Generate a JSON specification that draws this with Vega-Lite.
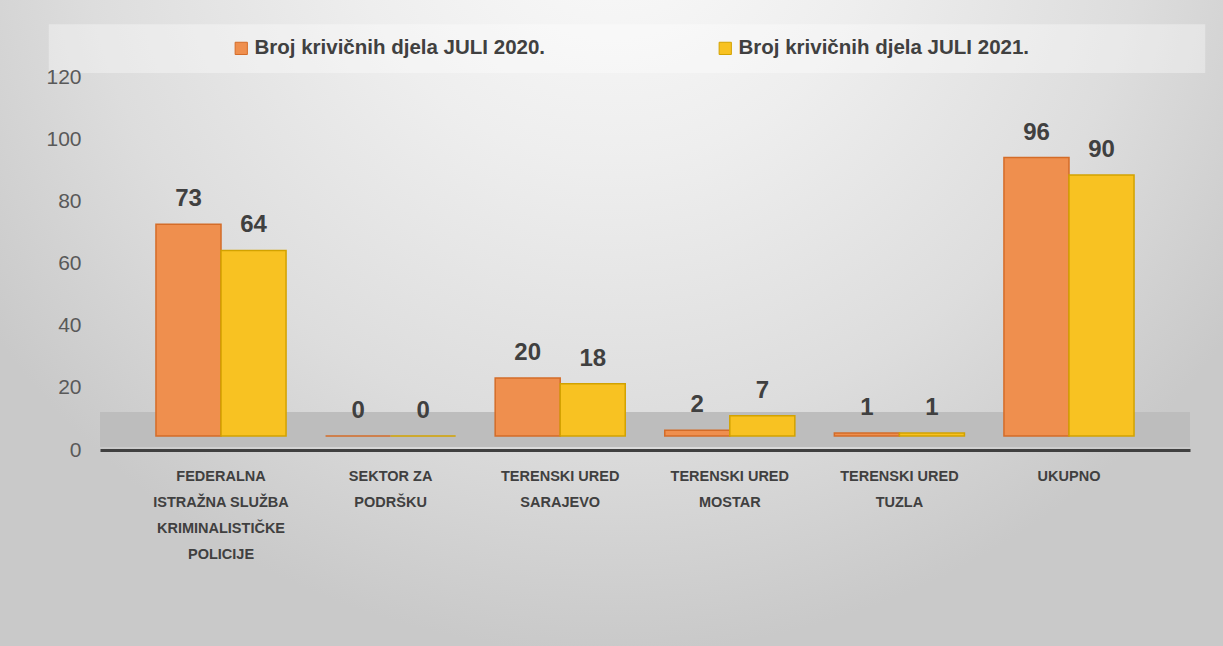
{
  "$schema": "https://vega.github.io/schema/vega-lite/v6.json",
  "autosize": {"type": "none"},
  "width": 1223,
  "height": 646,
  "padding": 0,
  "background": "#d4d4d4",
  "view": {"stroke": null, "fill": {"gradient": "radial", "x1": 0.5, "y1": 0.15, "r1": 0, "x2": 0.5, "y2": 0.15, "r2": 0.62,
    "stops": [{"offset": 0, "color": "#fbfbfb"}, {"offset": 0.35, "color": "#eeeeee"}, {"offset": 0.7, "color": "#dddddd"}, {"offset": 1, "color": "#c9c9c9"}]}},
  "data": {"values": [
    {"kategorija": "FEDERALNA|ISTRAŽNA SLUŽBA|KRIMINALISTIČKE|POLICIJE", "serija": "Broj krivičnih djela JULI 2020.", "broj": 73},
    {"kategorija": "FEDERALNA|ISTRAŽNA SLUŽBA|KRIMINALISTIČKE|POLICIJE", "serija": "Broj krivičnih djela JULI 2021.", "broj": 64},
    {"kategorija": "SEKTOR ZA|PODRŠKU", "serija": "Broj krivičnih djela JULI 2020.", "broj": 0},
    {"kategorija": "SEKTOR ZA|PODRŠKU", "serija": "Broj krivičnih djela JULI 2021.", "broj": 0},
    {"kategorija": "TERENSKI URED|SARAJEVO", "serija": "Broj krivičnih djela JULI 2020.", "broj": 20},
    {"kategorija": "TERENSKI URED|SARAJEVO", "serija": "Broj krivičnih djela JULI 2021.", "broj": 18},
    {"kategorija": "TERENSKI URED|MOSTAR", "serija": "Broj krivičnih djela JULI 2020.", "broj": 2},
    {"kategorija": "TERENSKI URED|MOSTAR", "serija": "Broj krivičnih djela JULI 2021.", "broj": 7},
    {"kategorija": "TERENSKI URED|TUZLA", "serija": "Broj krivičnih djela JULI 2020.", "broj": 1},
    {"kategorija": "TERENSKI URED|TUZLA", "serija": "Broj krivičnih djela JULI 2021.", "broj": 1},
    {"kategorija": "UKUPNO", "serija": "Broj krivičnih djela JULI 2020.", "broj": 96},
    {"kategorija": "UKUPNO", "serija": "Broj krivičnih djela JULI 2021.", "broj": 90}
  ]},
  "layer": [
    {
      "data": {"values": [{}]},
      "mark": {"type": "rect", "color": "#bdbdbd"},
      "encoding": {
        "x": {"datum": 0, "type": "quantitative", "scale": {"domain": [0, 1], "range": [100, 1190]}, "axis": null},
        "x2": {"datum": 1},
        "y": {"datum": 12.2, "type": "quantitative", "scale": {"domain": [0, 120], "range": [450, 77], "nice": false},
          "axis": {"orient": "left", "offset": -100, "zindex": 1, "values": [0, 20, 40, 60, 80, 100, 120], "title": null, "domain": false, "ticks": false, "grid": false,
            "labelFont": "Liberation Sans", "labelFontSize": 21, "labelColor": "#595959", "labelPadding": 19}},
        "y2": {"datum": 1}
      }
    },
    {
      "data": {"values": [{}]},
      "mark": {"type": "rect", "color": "#ffffff", "opacity": 0.35},
      "encoding": {
        "x": {"datum": -0.047, "type": "quantitative", "scale": {"domain": [0, 1], "range": [100, 1190]}, "axis": null},
        "x2": {"datum": 1.014},
        "y": {"datum": 137, "type": "quantitative", "scale": {"domain": [0, 120], "range": [450, 77], "nice": false}, "axis": null},
        "y2": {"datum": 121.3}
      }
    },
    {
      "encoding": {
        "x": {"field": "kategorija", "type": "nominal", "sort": null, "title": null,
          "scale": {"range": [100, 1190], "paddingInner": 0.233, "paddingOuter": 0.33},
          "axis": {"orient": "bottom", "offset": -196, "labelExpr": "split(datum.label, '|')", "labelAngle": 0, "ticks": false,
            "domainColor": "#404040", "domainWidth": 3, "labelFont": "Liberation Sans", "labelFontWeight": "bold",
            "labelFontSize": 14.5, "labelColor": "#404040", "labelLineHeight": 26, "labelPadding": 19, "labelBaseline": "top"}},
        "xOffset": {"field": "serija", "type": "nominal", "scale": {"paddingInner": 0, "paddingOuter": 0}},
        "y": {"field": "broj", "type": "quantitative", "scale": {"domain": [0, 120], "range": [436, 88], "nice": false}, "axis": null}
      },
      "layer": [
        {
          "mark": {"type": "bar", "strokeWidth": 1.5},
          "encoding": {
            "y2": {"datum": 0},
            "color": {"field": "serija", "type": "nominal", "title": null,
              "scale": {"domain": ["Broj krivičnih djela JULI 2020.", "Broj krivičnih djela JULI 2021."], "range": ["#ef8f4e", "#f8c222"]},
              "legend": {"orient": "none", "legendX": 231, "legendY": 38, "direction": "horizontal", "columns": 2,
                "columnPadding": 169, "symbolType": "square", "symbolSize": 150, "symbolStrokeColor": "#b35a1f", "symbolStrokeWidth": 1,
                "labelFont": "Liberation Sans", "labelFontWeight": "bold", "labelFontSize": 20.5, "labelColor": "#404040",
                "labelOffset": 3, "padding": 0, "labelLimit": 400}},
            "stroke": {"field": "serija", "type": "nominal", "legend": null,
              "scale": {"domain": ["Broj krivičnih djela JULI 2020.", "Broj krivičnih djela JULI 2021."], "range": ["#d46c28", "#d2a200"]}}
          }
        },
        {
          "mark": {"type": "text", "font": "Liberation Sans", "fontWeight": "bold", "fontSize": 24, "color": "#404040", "baseline": "alphabetic", "dy": -18},
          "encoding": {"text": {"field": "broj", "type": "quantitative"}}
        }
      ]
    }
  ],
  "resolve": {"scale": {"x": "independent", "y": "independent"}}
}
